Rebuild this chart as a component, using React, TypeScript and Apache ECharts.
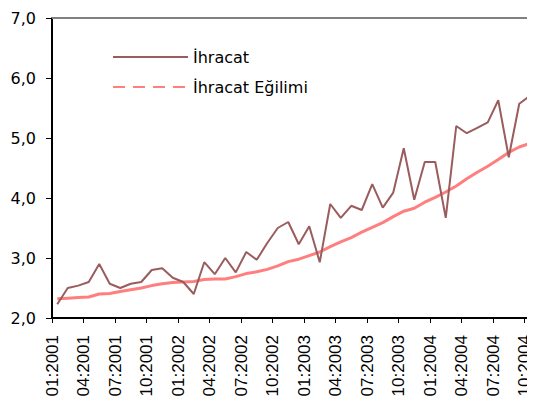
import React, { useEffect, useRef } from "react";
import * as echarts from "echarts";

const categories = [
  "01:2001", "02:2001", "03:2001", "04:2001", "05:2001", "06:2001", "07:2001", "08:2001", "09:2001", "10:2001", "11:2001", "12:2001",
  "01:2002", "02:2002", "03:2002", "04:2002", "05:2002", "06:2002", "07:2002", "08:2002", "09:2002", "10:2002", "11:2002", "12:2002",
  "01:2003", "02:2003", "03:2003", "04:2003", "05:2003", "06:2003", "07:2003", "08:2003", "09:2003", "10:2003", "11:2003", "12:2003",
  "01:2004", "02:2004", "03:2004", "04:2004", "05:2004", "06:2004", "07:2004", "08:2004", "09:2004", "10:2004",
];

const ihracat = [
  2.23, 2.5, 2.54, 2.6, 2.9, 2.57, 2.5, 2.57, 2.6, 2.8, 2.83, 2.67,
  2.6, 2.4, 2.93, 2.73, 3.0, 2.76, 3.1, 2.97, 3.25, 3.5, 3.6, 3.23,
  3.53, 2.93, 3.9, 3.67, 3.87, 3.8, 4.23, 3.84, 4.09, 4.83, 3.97, 4.6,
  4.6, 3.67, 5.2, 5.08, 5.17, 5.26, 5.63, 4.68, 5.57, 5.7,
];

const egilim = [
  2.32, 2.33, 2.34, 2.35, 2.4, 2.41, 2.44, 2.47, 2.5, 2.54, 2.57, 2.59,
  2.6, 2.61, 2.64, 2.65, 2.65, 2.69, 2.74, 2.77, 2.81, 2.87, 2.94, 2.98,
  3.04, 3.1, 3.19, 3.27, 3.34, 3.43, 3.51, 3.59, 3.69, 3.78, 3.83, 3.93,
  4.01, 4.1, 4.2, 4.32, 4.43, 4.53, 4.64, 4.76, 4.85, 4.91,
];

const seriesNames = ["İhracat", "İhracat Eğilimi"];

// each month is plotted in the middle of its slot; ticks/labels sit at slot starts
const toPoints = (vals: number[]) => vals.map((v, i) => [i + 0.5, v]);

export default function App() {
  const ref = useRef<HTMLDivElement>(null);
  useEffect(() => {
    if (!ref.current) return;
    const chart = echarts.init(ref.current, undefined, { renderer: "svg" });
    chart.setOption({
      animation: false,
      backgroundColor: "#ffffff",
      grid: { left: 52, top: 18, width: 484, height: 300, containLabel: false },
      legend: {
        orient: "vertical",
        left: 107,
        top: 44,
        itemWidth: 75,
        itemHeight: 16,
        itemGap: 14,
        itemStyle: { opacity: 0 },
        textStyle: { fontFamily: "DejaVu Sans", fontSize: 16, color: "#000" },
        data: [
          { name: seriesNames[0] },
          { name: seriesNames[1], lineStyle: { type: [12, 8] } },
        ],
      },
      xAxis: [
        {
          type: "value",
          min: 0,
          max: categories.length,
          interval: 3,
          axisLine: { show: true, onZero: false, lineStyle: { color: "#000", width: 2 } },
          axisTick: { show: true, length: 5, lineStyle: { color: "#000" } },
          axisLabel: {
            rotate: 90,
            margin: 17,
            showMaxLabel: false,
            fontFamily: "Liberation Sans",
            fontSize: 17,
            color: "#000",
            formatter: (v: number) => categories[Math.round(v)] ?? "",
          },
          splitLine: { show: false },
        },
        {
          type: "value",
          min: 0,
          max: categories.length,
          position: "top",
          axisLine: { show: true, onZero: false, lineStyle: { color: "#808080", width: 2 } },
          axisTick: { show: false },
          axisLabel: { show: false },
          splitLine: { show: false },
        },
      ],
      yAxis: {
        type: "value",
        min: 2,
        max: 7,
        interval: 1,
        axisLine: { show: true, onZero: false, lineStyle: { color: "#000", width: 2 } },
        axisTick: { show: true, length: 6, lineStyle: { color: "#000" } },
        axisLabel: {
          margin: 16,
          fontFamily: "DejaVu Sans",
          fontSize: 16,
          color: "#000",
          formatter: (v: number) => v.toFixed(1).replace(".", ","),
        },
        splitLine: { show: false },
      },
      series: [
        {
          name: seriesNames[0],
          type: "line",
          data: toPoints(ihracat),
          symbol: "none",
          lineStyle: { color: "#9a5c5c", width: 2 },
          itemStyle: { color: "#9a5c5c" },
          z: 3,
        },
        {
          name: seriesNames[1],
          type: "line",
          data: toPoints(egilim),
          symbol: "none",
          lineStyle: { color: "#ff7f7f", width: 3 },
          itemStyle: { color: "#ff7f7f" },
          z: 2,
        },
      ],
    });
    return () => chart.dispose();
  }, []);
  return <div ref={ref} style={{ width: 535, height: 405, margin: -8 }} />;
}
